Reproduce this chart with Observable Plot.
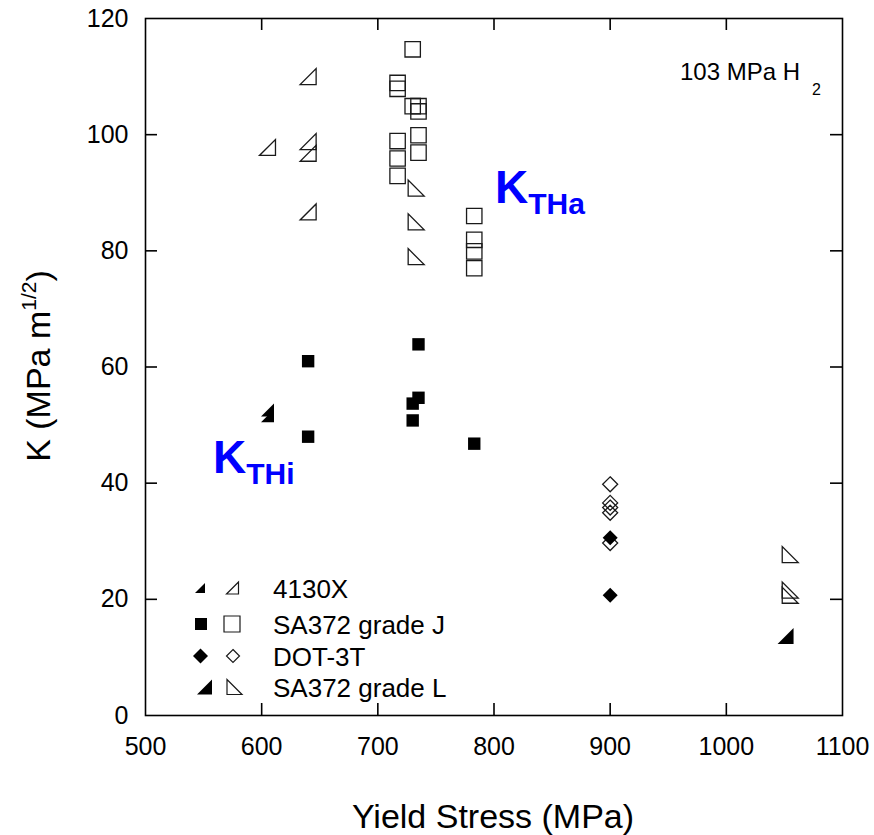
<!DOCTYPE html>
<html><head><meta charset="utf-8">
<script src="https://cdn.jsdelivr.net/npm/d3@7"></script>
<script src="https://cdn.jsdelivr.net/npm/@observablehq/plot@0.6"></script>
<style>body{margin:0;background:#fff} svg{display:block}</style>
</head><body><div id="chart"></div>
<script>
// ---------- data ----------
const steel4130X_KTHi_x = [605, 605];
const steel4130X_KTHi_y = [52.6, 51.6];
const steel4130X_KTHa_x = [605, 640, 640, 640, 640];
const steel4130X_KTHa_y = [97.8, 110, 98.8, 96.8, 86.7];

const gradeJ_KTHi_x = [640, 640, 730, 730, 735, 735, 783];
const gradeJ_KTHi_y = [61, 48, 53.7, 50.8, 63.9, 54.7, 46.8];
const gradeJ_KTHa_x = [717, 717, 717, 717, 717, 730, 730, 735, 735, 735, 735, 783, 783, 783, 783];
const gradeJ_KTHa_y = [108.9, 107.9, 98.9, 95.9, 92.9, 114.7, 104.9, 104.9, 104, 99.9, 96.9, 86, 81.9, 79.9, 77];

const dot3T_KTHi_x = [900, 900];
const dot3T_KTHi_y = [30.6, 20.7];
const dot3T_KTHa_x = [900, 900, 900, 900, 900];
const dot3T_KTHa_y = [39.8, 36.6, 35.8, 34.9, 29.7];

const gradeL_KTHi_x = [1051];
const gradeL_KTHi_y = [13.7];
const gradeL_KTHa_x = [733, 733, 733, 1055, 1055, 1055];
const gradeL_KTHa_y = [90.8, 85, 79, 27.7, 21.6, 20.7];

const legendLabels = ["4130X", "SA372 grade J", "DOT-3T", "SA372 grade L"];
const xTicks = [500, 600, 700, 800, 900, 1000, 1100];
const yTicks = [0, 20, 40, 60, 80, 100, 120];
const xInnerTicks = [600, 700, 800, 900, 1000];
const yInnerTicks = [20, 40, 60, 80, 100];

// ---------- custom symbols ----------
const rad = s => Math.sqrt(s / Math.PI);
const sym = {
  square: {draw(c, s) { const r = rad(s); c.moveTo(-r, -r); c.lineTo(r, -r); c.lineTo(r, r); c.lineTo(-r, r); c.closePath(); }},
  diamond: {draw(c, s) { const r = rad(s); c.moveTo(0, -r); c.lineTo(r, 0); c.lineTo(0, r); c.lineTo(-r, 0); c.closePath(); }},
  triBR: {draw(c, s) { const r = rad(s); c.moveTo(-r, r); c.lineTo(r, r); c.lineTo(r, -r); c.closePath(); }},
  triBL: {draw(c, s) { const r = rad(s); c.moveTo(-r, -r); c.lineTo(-r, r); c.lineTo(r, r); c.closePath(); }}
};

const OPEN = "#1a1a1a";
const series = [
  {x: steel4130X_KTHa_x, y: steel4130X_KTHa_y, symbol: sym.triBR, r: 8, fill: "none", stroke: OPEN},
  {x: gradeJ_KTHa_x, y: gradeJ_KTHa_y, symbol: sym.square, r: 7.7, fill: "none", stroke: OPEN},
  {x: dot3T_KTHa_x, y: dot3T_KTHa_y, symbol: sym.diamond, r: 7.5, fill: "none", stroke: OPEN},
  {x: gradeL_KTHa_x, y: gradeL_KTHa_y, symbol: sym.triBL, r: 8, fill: "none", stroke: OPEN},
  {x: steel4130X_KTHi_x, y: steel4130X_KTHi_y, symbol: sym.triBR, r: 6.5, fill: "#000", stroke: "none"},
  {x: gradeJ_KTHi_x, y: gradeJ_KTHi_y, symbol: sym.square, r: 6.2, fill: "#000", stroke: "none"},
  {x: dot3T_KTHi_x, y: dot3T_KTHi_y, symbol: sym.diamond, r: 7.5, fill: "#000", stroke: "none"},
  {x: gradeL_KTHi_x, y: gradeL_KTHi_y, symbol: sym.triBR, r: 8, fill: "#000", stroke: "none"}
];

const W = 874, H = 835, ML = 145, MR = 32, MT = 18, MB = 120;
const innerW = W - ML - MR, innerH = H - MT - MB, TICK = 12;
const FONT = "Arial, 'Liberation Sans', Helvetica, sans-serif";

const plot = Plot.plot({
  width: W, height: H,
  marginLeft: ML, marginRight: MR, marginTop: MT, marginBottom: MB,
  style: {fontFamily: FONT, color: "#000", background: "#fff"},
  x: {domain: [500, 1100]},
  y: {domain: [0, 120]},
  marks: [
    Plot.ruleX(xInnerTicks, {x: d => d, insetTop: innerH - TICK, stroke: "#000", strokeWidth: 1.6}),
    Plot.ruleX(xInnerTicks, {x: d => d, insetBottom: innerH - TICK, stroke: "#000", strokeWidth: 1.6}),
    Plot.ruleY(yInnerTicks, {y: d => d, insetRight: innerW - TICK, stroke: "#000", strokeWidth: 1.6}),
    Plot.ruleY(yInnerTicks, {y: d => d, insetLeft: innerW - TICK, stroke: "#000", strokeWidth: 1.6}),
    Plot.frame({stroke: "#000", strokeWidth: 1.6}),
    Plot.axisX(xTicks, {tickSize: 0, tickPadding: 22, fontSize: 25, label: null, tickFormat: d => String(d)}),
    Plot.axisY(yTicks, {tickSize: 0, tickPadding: 17, fontSize: 25, label: null, tickFormat: d => String(d)}),
    ...series.map(s => Plot.dot(s.x, {x: s.x, y: s.y, symbol: s.symbol, r: s.r, fill: s.fill, stroke: s.stroke, strokeWidth: 1.3}))
  ]
});

const svg = d3.select(plot);

function txt(x, y, size) {
  return svg.append("text").attr("x", x).attr("y", y).attr("text-anchor", "start")
    .attr("font-family", FONT).attr("font-size", size).attr("fill", "#000");
}

// axis titles
txt(493, 828, 34).attr("text-anchor", "middle").text("Yield Stress (MPa)");
const yl = svg.append("text").attr("transform", "translate(50,366) rotate(-90)").attr("text-anchor", "middle")
  .attr("font-family", FONT).attr("font-size", 34).attr("fill", "#000");
yl.append("tspan").text("K (MPa m");
yl.append("tspan").attr("font-size", 21).attr("dy", -14).text("1/2");
yl.append("tspan").attr("dy", 14).text(")");

// annotations
function kLabel(x, y, sub) {
  const t = txt(x, y, 46).attr("font-weight", "bold").attr("fill", "#0000ff");
  t.append("tspan").text("K");
  t.append("tspan").attr("font-size", 30).attr("dy", 11).text(sub);
}
kLabel(495, 203, "THa");
kLabel(213, 473, "THi");

const h2 = txt(680, 80, 24);
h2.append("tspan").text("103 MPa H");
h2.append("tspan").attr("font-size", 16).attr("dx", 12).attr("dy", 15).text("2");

// legend
const legendLayout = [
  {cy: 588, base: 598, f: sym.triBR, fr: 5, fx: 200, o: sym.triBR, or: 6, ox: 232.5},
  {cy: 624, base: 634, f: sym.square, fr: 6, fx: 201, o: sym.square, or: 8, ox: 232},
  {cy: 656, base: 666, f: sym.diamond, fr: 7.5, fx: 200.5, o: sym.diamond, or: 6.5, ox: 233},
  {cy: 687, base: 697, f: sym.triBR, fr: 7.5, fx: 204.5, o: sym.triBL, or: 7.5, ox: 234.5}
];
legendLayout.forEach((L, i) => {
  svg.append("path").attr("d", d3.symbol(L.f, Math.PI * L.fr * L.fr)())
    .attr("transform", `translate(${L.fx},${L.cy})`).attr("fill", "#000");
  svg.append("path").attr("d", d3.symbol(L.o, Math.PI * L.or * L.or)())
    .attr("transform", `translate(${L.ox},${L.cy})`).attr("fill", "none").attr("stroke", OPEN).attr("stroke-width", 1.2);
  txt(273, L.base, 26).text(legendLabels[i]);
});

document.getElementById("chart").appendChild(plot);
</script>
</body></html>
